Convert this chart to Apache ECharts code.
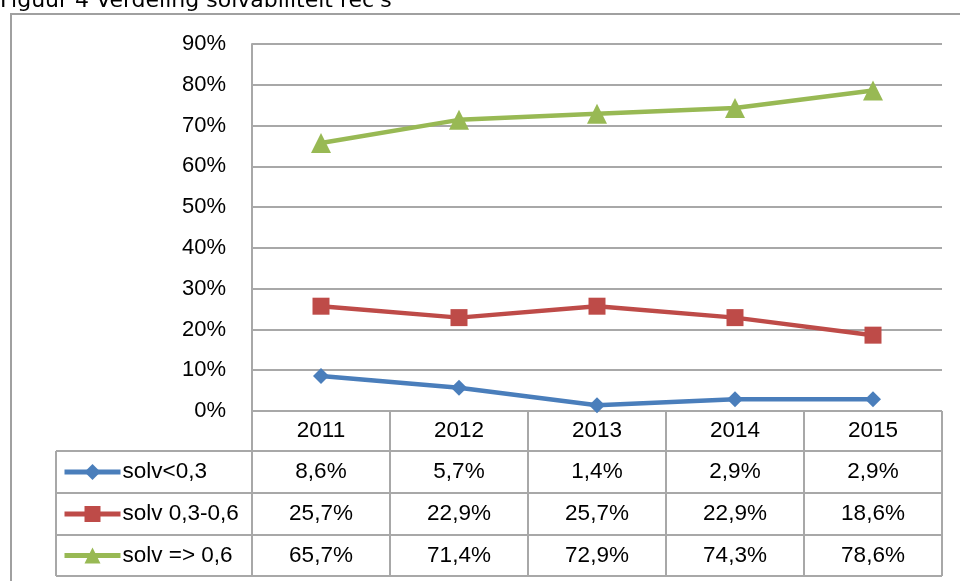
<!DOCTYPE html>
<html>
<head>
<meta charset="utf-8">
<script src="https://cdn.jsdelivr.net/npm/echarts@6/dist/echarts.min.js"></script>
<style>
html, body { margin: 0; padding: 0; background: #fff; }
#chart { width: 960px; height: 581px; }
</style>
</head>
<body>
<div id="chart"></div>
<script>
const title = "Figuur 4 Verdeling solvabiliteit rec's";
const years = ['2011', '2012', '2013', '2014', '2015'];
const seriesNames = ['solv<0,3', 'solv 0,3-0,6', 'solv => 0,6'];
const solvLow = [8.6, 5.7, 1.4, 2.9, 2.9];
const solvMid = [25.7, 22.9, 25.7, 22.9, 18.6];
const solvHigh = [65.7, 71.4, 72.9, 74.3, 78.6];

const font = '"Liberation Sans", Arial, sans-serif';
const gridColor = '#a8a8a8';
const colors = ['#4a7ebb', '#be4b48', '#98b954'];
const symbols = ['diamond', 'rect', 'triangle'];
const symbolSizes = [16, 17, 20];
const allData = [solvLow, solvMid, solvHigh];

const fmt = v => v.toFixed(1).replace('.', ',') + '%';

const chart = echarts.init(document.getElementById('chart'));

// one legend per table row, placed next to its row
const rowTop = [411, 451, 493, 535, 576];
const legends = seriesNames.map((name, i) => ({
    data: [name],
    left: 62,
    top: (rowTop[i + 1] + rowTop[i + 2]) / 2 - 12,
    padding: 0,
    itemWidth: 56,
    itemHeight: 20,
    itemGap: 0,
    selectedMode: false,
    lineStyle: { width: 5 },
    textStyle: { fontFamily: font, fontSize: 22.5, color: '#000', lineHeight: 24, padding: [0, 0, 0, -3] }
}));

const option = {
    animation: false,
    color: colors,
    legend: legends,
    grid: { left: 252, top: 44, width: 690, height: 367 },
    xAxis: {
        type: 'category',
        data: years,
        boundaryGap: true,
        axisLine: { show: false },
        axisTick: { show: false },
        axisLabel: { show: false }
    },
    yAxis: {
        type: 'value',
        min: 0,
        max: 90,
        interval: 10,
        axisLine: { show: true, lineStyle: { color: gridColor, width: 2 } },
        axisTick: { show: false },
        axisLabel: {
            formatter: '{value}%',
            margin: 26,
            fontFamily: font,
            fontSize: 22,
            color: '#000'
        },
        splitLine: { lineStyle: { color: gridColor, width: 2 } }
    },
    series: seriesNames.map((name, i) => ({
        name: name,
        type: 'line',
        data: allData[i],
        symbol: symbols[i],
        symbolSize: symbolSizes[i],
        lineStyle: { width: 4.5, color: colors[i] },
        itemStyle: { color: colors[i] }
    }))
};
chart.setOption(option);

// data table under the plot, aligned with the category axis
const cx = years.map((y, i) => chart.convertToPixel({ xAxisIndex: 0 }, i));
const band = cx[1] - cx[0];
const bounds = [cx[0] - band / 2].concat(cx.map(x => x + band / 2));
const xEnd = bounds[bounds.length - 1];
const legendLeft = 56;
const tableBottom = rowTop[rowTop.length - 1];
const lineStyle = { stroke: gridColor, lineWidth: 2 };
const graphics = [];

graphics.push({
    type: 'rect',
    shape: { x: 11, y: 14, width: 1000, height: 620 },
    style: { fill: null, stroke: '#a0a0a0', lineWidth: 2 },
    z: 0
});
graphics.push({
    type: 'text',
    left: 0,
    top: -10,
    style: { text: title, font: '22px "DejaVu Sans", Verdana, sans-serif', fill: '#000' }
});
bounds.forEach(x => {
    graphics.push({ type: 'line', shape: { x1: x, y1: rowTop[0], x2: x, y2: tableBottom }, style: lineStyle });
});
graphics.push({ type: 'line', shape: { x1: bounds[0], y1: rowTop[0], x2: xEnd, y2: rowTop[0] }, style: lineStyle });
for (let r = 1; r < rowTop.length; r++) {
    graphics.push({ type: 'line', shape: { x1: legendLeft, y1: rowTop[r], x2: xEnd, y2: rowTop[r] }, style: lineStyle });
}
graphics.push({ type: 'line', shape: { x1: legendLeft, y1: rowTop[1], x2: legendLeft, y2: tableBottom }, style: lineStyle });

const rows = [years].concat(allData.map(d => d.map(fmt)));
rows.forEach((row, r) => {
    const yc = (rowTop[r] + rowTop[r + 1]) / 2;
    row.forEach((txt, c) => {
        graphics.push({
            type: 'text',
            x: cx[c],
            y: yc,
            style: { text: txt, font: '22.5px ' + font, fill: '#000', align: 'center', verticalAlign: 'middle' }
        });
    });
});

chart.setOption({ graphic: graphics });
</script>
</body>
</html>
